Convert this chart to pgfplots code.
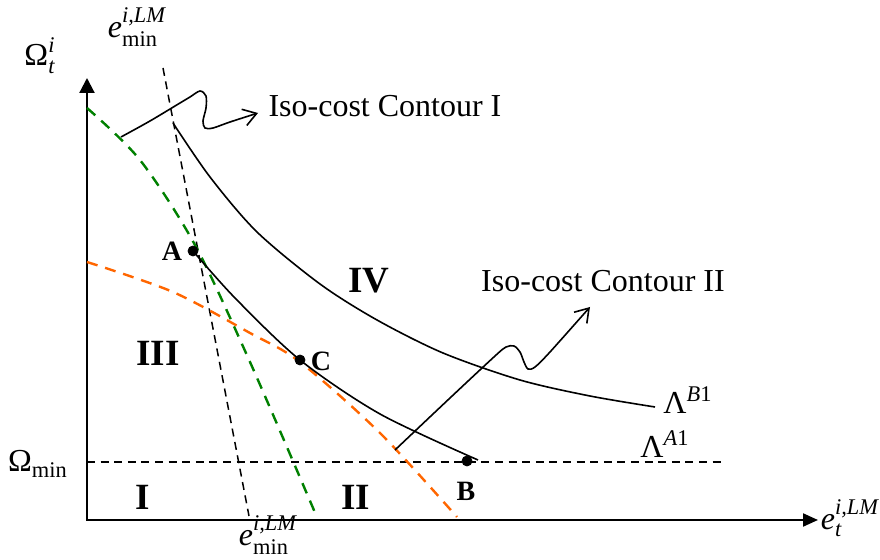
\documentclass[border=0pt]{standalone}
\usepackage{fontspec}
\setmainfont{Liberation Serif}
\usepackage{amsmath}
\usepackage{pgfplots}
\pgfplotsset{compat=1.18}
\usetikzlibrary{arrows.meta}

\definecolor{isogreen}{RGB}{0,128,0}
\definecolor{isoorange}{RGB}{255,102,0}

\newcommand{\fs}[1]{\fontsize{#1}{#1}\selectfont}
\newcommand{\ti}[1]{\text{\itshape #1}}

\begin{document}
\begin{tikzpicture}
\useasboundingbox (0,0) rectangle (440pt,280pt);
\begin{axis}[
  at={(0,0)}, anchor=south west,
  scale only axis, width=440pt, height=280pt,
  xmin=0, xmax=880, ymin=0, ymax=560, y dir=reverse,
  hide axis, clip=false]

% coordinate axes
\addplot[black, line width=1.1pt, -{Triangle[length=7.5pt,width=7.5pt]}]
  coordinates {(87,521) (87,78)};
\addplot[black, line width=1.1pt, -{Triangle[length=7.5pt,width=6.5pt]}]
  coordinates {(86,520) (818,520)};

% minimum level and minimum-emission bound
\addplot[black, line width=0.75pt, dash pattern=on 4pt off 2.8pt]
  coordinates {(87,462) (722,462)};
\addplot[black, line width=0.75pt, dash pattern=on 4pt off 2.8pt]
  coordinates {(163,68) (249,516)};

% dashed boundary curves
\addplot[isogreen, line width=1.2pt, dash pattern=on 5.5pt off 4pt, smooth]
  coordinates {(87,108) (140,160) (195,245) (250,362) (316,515)};
\addplot[isoorange, line width=1.2pt, dash pattern=on 5.5pt off 4pt, smooth]
  coordinates {(87,262) (173,292) (250,333) (300,362) (380,433) (457,517)};

% iso-cost contours
\addplot[black, line width=0.8pt, smooth]
  coordinates {(173,123) (210,177) (257,232) (320,284) (377,320) (443,353)
               (520,380) (590,396) (655,407)};
\addplot[black, line width=0.8pt, smooth]
  coordinates {(193,251) (235,298) (300,360) (380,414) (478,460)};

% operating points A, C, B
\addplot[only marks, mark=*, mark size=2.5pt, black]
  coordinates {(193,251) (300,360) (467,461)};

% pointer arrows to the contour names
\addplot[black, line width=0.8pt, smooth, tension=0.5,
         -{Straight Barb[length=6.5pt,width=8.5pt]}]
  coordinates {(121,137) (150,121) (180,103) (190,97) (200,91) (206,96)
               (206,108) (203,121) (205,128) (213,128) (230,122) (258,113)};
\addplot[black, line width=0.8pt, smooth, tension=0.5,
         -{Straight Barb[length=6.5pt,width=8.5pt]}]
  coordinates {(395,450) (450,398) (495,356) (506,347) (514,346) (520,352)
               (524,362) (528,369) (535,367) (550,352) (590,307)};

% texts
\node[font=\fs{16}] at (axis cs:385,106) {Iso-cost Contour I};
\node[font=\fs{16}] at (axis cs:603,281) {Iso-cost Contour II};

\node[font=\bfseries\fs{18.5}] at (axis cs:369,281) {IV};
\node[font=\bfseries\fs{18.5}] at (axis cs:158,353) {III};
\node[font=\bfseries\fs{18.5}] at (axis cs:143,497) {I};
\node[font=\bfseries\fs{18.5}] at (axis cs:356,497) {II};

\node[font=\bfseries\fs{14}] at (axis cs:172,251) {A};
\node[font=\bfseries\fs{14}] at (axis cs:321,361) {C};
\node[font=\bfseries\fs{14}] at (axis cs:466,491) {B};

\node[font=\fs{16}] at (axis cs:40,56) {$\text{Ω}^{\ti{i}}_{\ti{t}}$};
\node[font=\fs{16}] at (axis cs:38,464) {$\text{Ω}_{\text{min}}$};
\node[font=\fs{16}] at (axis cs:137,27) {$\ti{e}^{\ti{i,LM}}_{\text{min}}$};
\node[font=\fs{16}] at (axis cs:268,535) {$\ti{e}^{\ti{i,LM}}_{\text{min}}$};
\node[font=\fs{16}] at (axis cs:850,518) {$\ti{e}^{\ti{i,LM}}_{\ti{t}}$};
\node[font=\fs{16}] at (axis cs:688,400) {$\text{Λ}^{\ti{B}\text{1}}$};
\node[font=\fs{16}] at (axis cs:665,444) {$\text{Λ}^{\ti{A}\text{1}}$};
\end{axis}
\end{tikzpicture}
\end{document}
